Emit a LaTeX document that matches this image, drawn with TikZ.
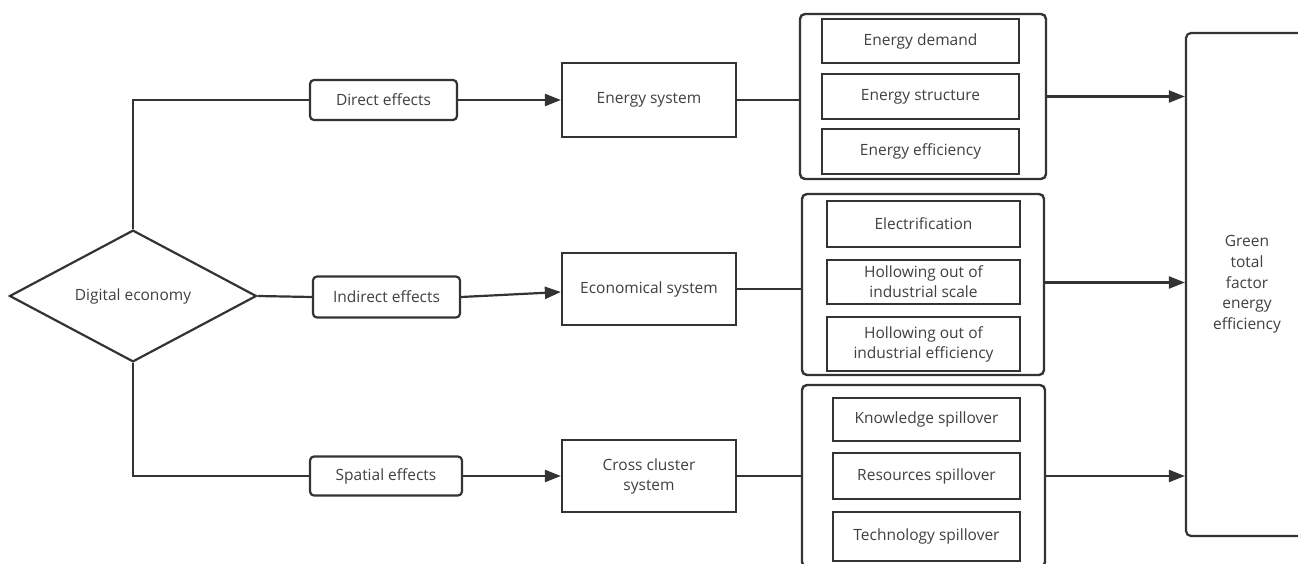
\documentclass[tikz,border=0pt]{standalone}
\usepackage{fontspec}
\setmainfont{Open Sans}
\usetikzlibrary{shapes.geometric,arrows.meta}
\definecolor{ln}{HTML}{333333}
\definecolor{tx}{HTML}{404040}
\tikzset{
  base/.style={draw=ln, line width=2.2pt, text=tx, font=\fontsize{15.5}{20}\selectfont, align=center, inner sep=0pt},
  effbox/.style={base, rectangle, rounded corners=4pt},
  sysbox/.style={base, rectangle},
  grpbox/.style={base, rectangle, rounded corners=5pt, line width=2.4pt},
  itembox/.style={base, rectangle, line width=2.8pt},
  conn/.style={draw=ln, line width=2.2pt},
  arr/.style={conn, -{Triangle[length=16pt,width=12pt]}},
}
\begin{document}
\begin{tikzpicture}[x=1pt,y=-1pt]
\clip (0,0) rectangle (1298,564);
\fill[white] (0,0) rectangle (1298,564);
% diamond
\node[base, diamond, minimum width=247pt, minimum height=126pt] (de) at (133,296) {Digital economy};
% effects
\node[effbox, minimum width=147pt, minimum height=40pt] (direct) at (383.5,100) {Direct effects};
\node[effbox, minimum width=147pt, minimum height=41pt] (indirect) at (386.5,297) {Indirect effects};
\node[effbox, minimum width=152pt, minimum height=39pt] (spatial) at (386,476) {Spatial effects};
% systems
\node[sysbox, minimum width=174pt, minimum height=74pt] (esys) at (649,100) {Energy system};
\node[sysbox, minimum width=174pt, minimum height=72pt] (econ) at (649,289) {Economical system};
\node[sysbox, minimum width=174pt, minimum height=72pt] (cross) at (649,476) {Cross cluster\\system};
% groups
\node[grpbox, minimum width=246pt, minimum height=165pt] (g1) at (923,96.5) {};
\node[grpbox, minimum width=242pt, minimum height=181pt] (g2) at (923,284.5) {};
\node[grpbox, minimum width=243pt, minimum height=182pt] (g3) at (923.5,476) {};
% items
\node[itembox, minimum width=197pt, minimum height=44pt] (i11) at (920.5,41) {Energy demand};
\node[itembox, minimum width=197pt, minimum height=45pt] (i12) at (920.5,96.5) {Energy structure};
\node[itembox, minimum width=197pt, minimum height=45pt] (i13) at (920.5,151.5) {Energy efficiency};
\node[itembox, minimum width=193pt, minimum height=46pt] (i21) at (923.5,224) {Electrification};
\node[itembox, minimum width=193pt, minimum height=44pt] (i22) at (923.5,282) {Hollowing out of\\industrial scale};
\node[itembox, minimum width=193pt, minimum height=54pt] (i23) at (923.5,344) {Hollowing out of\\industrial efficiency};
\node[itembox, minimum width=187pt, minimum height=43pt] (i31) at (926.5,419.5) {Knowledge spillover};
\node[itembox, minimum width=187pt, minimum height=46pt] (i32) at (926.5,476) {Resources spillover};
\node[itembox, minimum width=187pt, minimum height=49pt] (i33) at (926.5,536.5) {Technology spillover};
% green
\node[grpbox, line width=2.2pt, minimum width=122pt, minimum height=503pt, font=\fontsize{15.5}{20.7}\selectfont] (green) at (1247,284.5) {Green\\total\\factor\\energy\\efficiency};
% connectors
\draw[conn] (de.north) |- (direct.west);
\draw[conn] (de.east) -- (indirect.west);
\draw[conn] (de.south) |- (spatial.west);
\draw[arr] (direct.east) -- (esys.west);
\draw[arr] (indirect.east) -- ([yshift=-3pt]econ.west);
\draw[arr] (spatial.east) -- (cross.west);
\draw[conn] (esys.east) -- (esys.east -| g1.west);
\draw[conn] (econ.east) -- (econ.east -| g2.west);
\draw[conn] (cross.east) -- (cross.east -| g3.west);
\draw[arr] (g1.east) -- (g1.east -| green.west);
\draw[arr] ([yshift=2pt]g2.east) -- ([yshift=2pt]g2.east -| green.west);
\draw[arr] (g3.east) -- (g3.east -| green.west);
\end{tikzpicture}
\end{document}
